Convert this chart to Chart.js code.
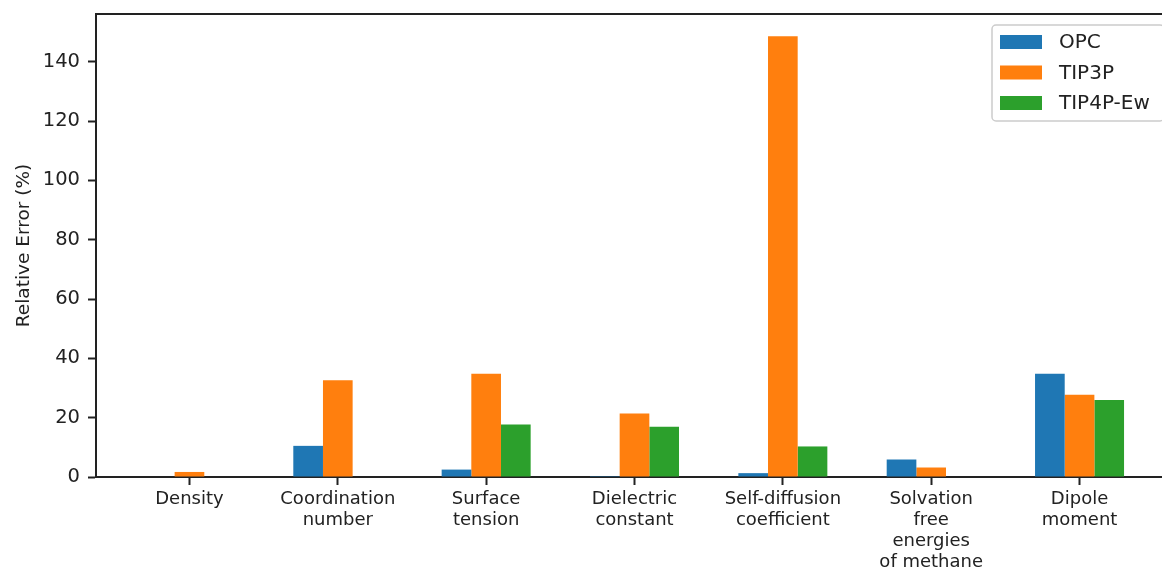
<!DOCTYPE html>
<html>
<head>
<meta charset="utf-8">
<script src="https://cdn.jsdelivr.net/npm/chart.js@4/dist/chart.umd.min.js"></script>
<style>
    html, body { margin: 0; padding: 0; background: #fff; overflow: hidden; }
    #wrap { width: 1162px; height: 568px; overflow: hidden; }
    canvas { display: block; }
</style>
</head>
<body>
<div id="wrap"><canvas id="chart" width="1180" height="568"></canvas></div>
<script>
/* ── Data ─────────────────────────────────────────────────────── */

const CATEGORIES = [
    ['Density'],
    ['Coordination', 'number'],
    ['Surface', 'tension'],
    ['Dielectric', 'constant'],
    ['Self-diffusion', 'coefficient'],
    ['Solvation', 'free', 'energies', 'of methane'],
    ['Dipole', 'moment'],
];
const OPC      = [0,   10.5,  2.5,  0.3,  1.3,  5.9, 34.8];
const TIP3P    = [1.7, 32.6, 34.8, 21.4, 148.6, 3.2, 27.7];
const TIP4P_EW = [0,   0,    17.7, 16.9, 10.3,  0,   26.0];
const SERIES_NAMES = ['OPC', 'TIP3P', 'TIP4P-Ew'];
const Y_TICKS = [0, 20, 40, 60, 80, 100, 120, 140];

/* ── Style constants ──────────────────────────────────────────── */

const COLORS = ['#1f77b4', '#ff7f0e', '#2ca02c'];
const INK = '#222222';
const FAMILY = '"DejaVu Sans", sans-serif';
const FONT = { family: FAMILY, size: 18, lineHeight: 1.17 };

const toPoints = (arr) => arr.map((v, i) => ({ x: i, y: v }));

/* ── Plugins: top spine + legend box ──────────────────────────── */

const frame = {
    id: 'frame',
    afterDatasetsDraw(chart) {
        const { ctx, chartArea: a } = chart;
        ctx.save();
        ctx.strokeStyle = INK;
        ctx.lineWidth = 2;
        ctx.beginPath();
        ctx.moveTo(a.left - 1, a.top);
        ctx.lineTo(a.right + 1, a.top);
        ctx.moveTo(a.right, a.top);
        ctx.lineTo(a.right, a.bottom);
        ctx.stroke();
        ctx.restore();
    }
};

const legendBox = {
    id: 'legendBox',
    afterDraw(chart) {
        const { ctx, chartArea: a } = chart;
        const x0 = a.right - 181, y0 = a.top + 11, w = 172, h = 96;
        ctx.save();
        ctx.fillStyle = 'rgba(255,255,255,0.8)';
        ctx.strokeStyle = '#cccccc';
        ctx.lineWidth = 1.5;
        ctx.beginPath();
        ctx.roundRect(x0, y0, w, h, 4);
        ctx.fill();
        ctx.stroke();
        ctx.font = `20px ${FAMILY}`;
        ctx.textBaseline = 'middle';
        chart.data.datasets.forEach((ds, i) => {
            const cy = y0 + 17 + i * 30.5;
            ctx.fillStyle = ds.backgroundColor;
            ctx.fillRect(x0 + 8, cy - 7, 42, 14);
            ctx.fillStyle = INK;
            ctx.fillText(ds.label, x0 + 67, cy + 1);
        });
        ctx.restore();
    }
};

/* ── Chart ────────────────────────────────────────────────────── */

new Chart(document.getElementById('chart'), {
    type: 'bar',
    data: {
        datasets: [OPC, TIP3P, TIP4P_EW].map((vals, i) => ({
            label: SERIES_NAMES[i],
            data: toPoints(vals),
            backgroundColor: COLORS[i],
            borderWidth: 0,
            categoryPercentage: 0.6,
            barPercentage: 1.0,
        }))
    },
    options: {
        responsive: false,
        animation: false,
        devicePixelRatio: 1,
        layout: { padding: { left: 0, top: 14, right: 7, bottom: 0 } },
        plugins: {
            legend: { display: false },
            tooltip: { enabled: false },
        },
        scales: {
            x: {
                type: 'linear',
                min: -0.63,
                max: 6.63,
                offset: false,
                afterBuildTicks: (s) => { s.ticks = CATEGORIES.map((_, i) => ({ value: i })); },
                afterFit: (s) => { s.height = 91; s.paddingLeft = 0; s.paddingRight = 0; },
                ticks: {
                    autoSkip: false,
                    maxRotation: 0,
                    padding: 4,
                    color: INK,
                    font: FONT,
                    callback: (v) => CATEGORIES[v],
                },
                grid: { offset: false, drawOnChartArea: false, drawTicks: true, tickLength: 8, tickColor: INK, tickWidth: 2 },
                border: { display: true, color: INK, width: 2 },
            },
            y: {
                min: 0,
                max: 156.1,
                afterBuildTicks: (s) => { s.ticks = Y_TICKS.map(v => ({ value: v })); },
                afterFit: (s) => { s.width = 96; s.paddingTop = 0; s.paddingBottom = 0; },
                ticks: { padding: 8, color: INK, font: { family: FAMILY, size: 19.5 } },
                grid: { drawOnChartArea: false, drawTicks: true, tickLength: 8, tickColor: INK, tickWidth: 2 },
                border: { display: true, color: INK, width: 2 },
                title: {
                    display: true,
                    text: 'Relative Error (%)',
                    color: INK,
                    font: { family: FAMILY, size: 18.5, lineHeight: 1.2 },
                    padding: { top: 13, bottom: 0 },
                },
            },
        },
    },
    plugins: [frame, legendBox],
});
</script>
</body>
</html>
